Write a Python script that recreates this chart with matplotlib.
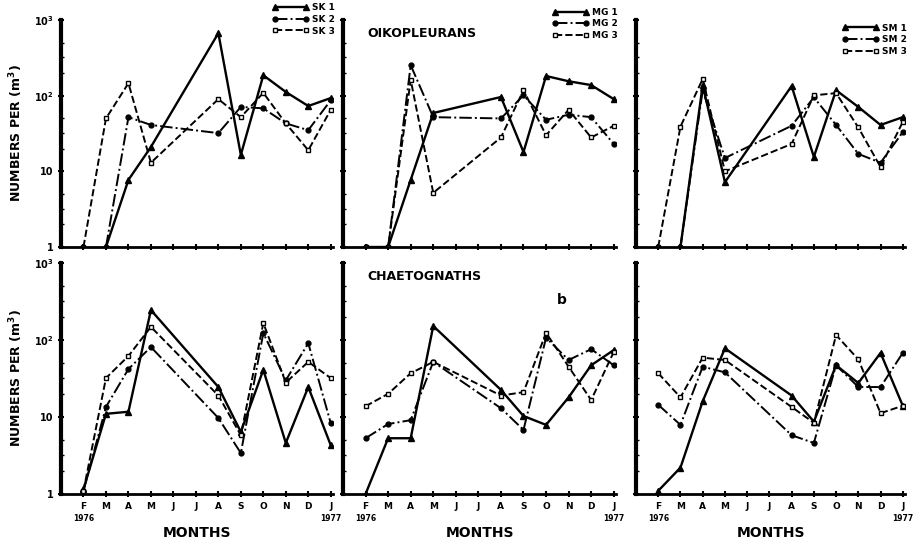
import numpy as np
import matplotlib
matplotlib.use('Agg')
import matplotlib.pyplot as plt
from matplotlib.ticker import FixedLocator, NullFormatter

plt.rcParams['font.family'] = ['DejaVu Sans']
plt.rcParams['font.weight'] = 'bold'

months = ['F', 'M', 'A', 'M', 'J', 'J', 'A', 'S', 'O', 'N', 'D', 'J']
sampled = [0, 1, 2, 3, 6, 7, 8, 9, 10, 11]   # June / July not sampled
nan = np.nan

# top row : Oikopleurans
sk_top = {'SK 1': [nan, 1, 7.7, 21, 670, 16.5, 186, 112, 73, 93],
          'SK 2': [nan, 1, 52, 41, 32, 71, 68, 43, 35, 87],
          'SK 3': [1, 50, 146, 13, 90, 52, 109, 43, 19, 65]}
mg_top = {'MG 1': [1, 1, 7.7, 59, 96, 18, 182, 155, 138, 90],
          'MG 2': [1, 1, 253, 52, 50, 101, 48, 56, 52, 23],
          'MG 3': [1, 1, 162, 5.2, 28, 118, 30, 65, 28, 40]}
sm_top = {'SM 1': [nan, 1, 138, 7.2, 134, 15.5, 118, 71, 41, 52],
          'SM 2': [nan, 1, 118, 15, 40, 95, 41, 17, 13, 33],
          'SM 3': [1, 39, 166, 10, 23, 101, 108, 38, 11.4, 45]}

# bottom row : Chaetognaths
sk_bot = {'SK 1': [1.15, 11, 11.7, 245, 24.5, 6.4, 41, 4.6, 24.5, 4.3],
          'SK 2': [1.1, 13.5, 42, 81, 9.7, 3.4, 123, 30, 91, 8.3],
          'SK 3': [1.1, 32, 62, 148, 19, 5.8, 166, 28, 52, 32]}
mg_bot = {'MG 1': [1, 5.3, 5.3, 152, 22.5, 10.3, 7.9, 18, 47, 74],
          'MG 2': [5.3, 8.1, 9.1, 52, 13, 6.8, 107, 55, 76, 47],
          'MG 3': [13.8, 20, 37, 52, 19, 21, 124, 45, 16.6, 70]}
sm_bot = {'SM 1': [1.1, 2.2, 16, 78, 19, 8.7, 47, 27.6, 68, 14],
          'SM 2': [14.4, 7.9, 45, 38, 5.8, 4.6, 47, 24.5, 24.5, 68],
          'SM 3': [37, 18, 59, 55, 13.5, 8.4, 116, 56, 11.2, 14]}

styles = [dict(ls='-', lw=1.7, marker='^', mfc='black', ms=4),
          dict(ls='-.', lw=1.4, marker='o', mfc='black', ms=3.5),
          dict(ls='--', lw=1.4, marker='s', mfc='white', ms=3.5)]

fig = plt.figure(figsize=(9.19, 5.45), dpi=100)

W, H = 919, 545
cols = [(61, 333), (343, 616), (636, 905)]
rows = [(20, 247), (263, 494)]

def make_ax(col, row):
    x0, x1 = cols[col]
    y0, y1 = rows[row]
    return fig.add_axes([x0 / W, 1 - y1 / H, (x1 - x0) / W, (y1 - y0) / H])

panels = [[sk_top, mg_top, sm_top], [sk_bot, mg_bot, sm_bot]]
legend_pos = [(1.02, 1.09), (1.02, 1.07), (1.02, 1.0)]

for r in range(2):
    for c in range(3):
        ax = make_ax(c, r)
        data = panels[r][c]
        for (name, vals), st in zip(data.items(), styles):
            ax.plot(sampled, vals, color='black', mec='black', mew=1,
                    label=name, **st)
        ax.set_yscale('log')
        ax.set_ylim(1, 1000)
        ax.set_xlim(-1, 11.1)
        ax.spines['top'].set_visible(False)
        ax.spines['right'].set_visible(False)
        ax.spines['left'].set_linewidth(3)
        ax.spines['bottom'].set_linewidth(2)
        ax.set_xticks(range(12))
        ax.yaxis.set_major_locator(FixedLocator([1, 10, 100, 1000]))
        ax.yaxis.set_minor_locator(FixedLocator([2, 3.2, 5, 20, 32, 50, 200, 320, 500]))
        ax.yaxis.set_minor_formatter(NullFormatter())
        ax.tick_params(axis='both', which='major', length=4, width=1.5,
                       direction='inout', labelsize=7)
        ax.tick_params(axis='y', which='minor', length=2, width=1, direction='in')
        if c == 0:
            ax.set_yticklabels(['1', '10', '10$^2$', '10$^3$'])
            ax.set_ylabel('NUMBERS PER (m$^3$)', fontsize=9, fontweight='bold',
                          labelpad=6)
        else:
            ax.set_yticklabels([])
        if r == 1:
            ax.set_xticklabels(months, fontsize=6.5)
            ax.set_xlabel('MONTHS', fontsize=10, fontweight='bold', labelpad=11)
            ax.text(0, -0.085, '1976', transform=ax.get_xaxis_transform(),
                    ha='center', va='top', fontsize=5.5)
            ax.text(11, -0.085, '1977', transform=ax.get_xaxis_transform(),
                    ha='center', va='top', fontsize=5.5)
        else:
            ax.set_xticklabels([])
            ax.legend(loc='upper right', bbox_to_anchor=legend_pos[c],
                      frameon=False, fontsize=6.5, handlelength=4, numpoints=2,
                      labelspacing=0.3, borderaxespad=0, handletextpad=0.4)
        if c == 1:
            title = 'OIKOPLEURANS' if r == 0 else 'CHAETOGNATHS'
            ax.text(0.09, 0.97, title, transform=ax.transAxes, ha='left',
                    va='top', fontsize=9, fontweight='bold')
            if r == 1:
                ax.text(0.80, 0.87, 'b', transform=ax.transAxes, ha='center',
                        va='top', fontsize=10, fontweight='bold')

fig.savefig('out.png', dpi=100)
